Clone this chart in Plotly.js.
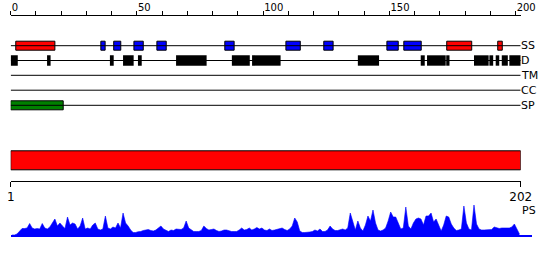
<!DOCTYPE html>
<html>
<head>
<meta charset="utf-8">
<script src="https://cdn.plot.ly/plotly-3.0.1.min.js"></script>
<style>html,body{margin:0;padding:0;background:#fff;}#chart{width:550px;height:260px;}</style>
</head>
<body>
<div id="chart"></div>
<script>
// ---- data ----
var seqLength = 202;
var rulerTicks = [0,10,20,30,40,50,60,70,80,90,100,110,120,130,140,150,160,170,180,190,200];
var rulerLabels = ['0','','','','','50','','','','','100','','','','','150','','','','','200'];
var seqTicks = [1, 202];
var seqTickLabels = ['1', '202'];
var trackNames = ['SS', 'D', 'TM', 'CC', 'SP'];

// secondary structure (H = helix, E = strand)
var ssStart = [2.0, 35.7, 40.8, 48.8, 57.9, 84.8, 109.0, 124.0, 149.0, 155.7, 172.7, 192.9];
var ssEnd   = [17.5, 37.4, 43.6, 52.5, 61.6, 88.5, 114.7, 127.7, 153.5, 162.6, 182.6, 194.7];
var ssType  = ['H','E','E','E','E','E','E','E','E','E','H','H'];

// disorder
var dStart = [0, 14.4, 39.3, 44.5, 50.4, 65.5, 87.6, 95.6, 137.5, 162.4, 164.9, 172.5, 183.5, 189.6, 192.1, 194.5, 197.5];
var dEnd   = [2.8, 15.8, 40.8, 48.7, 51.9, 77.6, 94.7, 106.9, 145.9, 164.0, 172.3, 173.8, 189.3, 191.1, 193.5, 196.9, 202];

// transmembrane / coiled coil: none
var tmStart = [], tmEnd = [];
var ccStart = [], ccEnd = [];

// signal peptide
var spStart = [0];
var spEnd = [20.8];

// domain bar
var domStart = [0];
var domEnd = [202];

// PS profile, one value per residue 1..202
var psValues = [
 0,0,1,4,6.5,6.5,7,11.5,7,6,6.5,6,11.5,7,6,8,12,16,9,12,
 9,6.5,18,10,12,11,6,9,17,6,7,6,10,12,6,5,6,19,7,6,
 8,7,12,7,22,12,9,5,2.5,2.5,3.3,3.5,4.5,5,5.5,4.5,4,5,7,9,
 6,4.5,3.5,5,4.5,6,6,5.5,7,14,7,5,3.5,3.5,3.5,4.5,9,6.5,5,5.5,
 6,4.5,3.5,4,5,5,4,3.5,3.5,3.5,5,7,5,5.5,7,5,6,7.5,6,7,
 5,4.5,6,4.5,5,5.5,6.5,7,5.5,4.5,6,9,17,13,4,2.5,2.5,2.5,3,3.5,
 5,4,6,3.5,3.5,5,9,6,4.5,4.5,5,6,5,7,22,13,5,14,7,4,
 10,19,14,25,12,5,4,5,7,14,23,18,18,12,6,7,28,9,6,12,
 16,17,16,10,19,19,22,13,16,10,4,10,19,18,11,7,4.5,5,6,29,
 12,6,5,30,11,6,5,5,5,5.5,5.5,8,7,6.5,7,7,7,7,8,11,
 6,1
];

// ---- layout positions (pixels from top) ----
var H = 260, W = 550;
var x0px = 10.7, x1px = 520.7, pxPerRes = (x1px - x0px) / seqLength;
var trackY = {SS: 45.7, D: 60.5, TM: 75.3, CC: 90.2, SP: 105.3};
var domY = 160.3;
var seqAxisY = 180.7;
var FONT = 'DejaVu Sans';

function rep(v, n){ var a=[]; for(var i=0;i<n;i++) a.push(v); return a; }
function diff(s, e){ return e.map(function(v,i){ return v - s[i]; }); }

var traces = [];
// track lines
trackNames.forEach(function(t){
  traces.push({type:'scatter', mode:'lines', x:[0, seqLength], y:[trackY[t], trackY[t]],
    xaxis:'x', yaxis:'y', line:{color:'#000', width:1}, hoverinfo:'skip', showlegend:false});
});
// SS boxes
traces.push({type:'bar', orientation:'h', base:ssStart, x:diff(ssStart, ssEnd), y:rep(trackY.SS, ssStart.length),
  width:9, xaxis:'x', yaxis:'y', cliponaxis:false,
  marker:{color:ssType.map(function(t){return t==='H' ? '#ff0000' : '#0000ff';}), line:{color:'#000', width:1}},
  hoverinfo:'skip', showlegend:false});
// disorder
traces.push({type:'bar', orientation:'h', base:dStart, x:diff(dStart, dEnd), y:rep(trackY.D, dStart.length),
  width:10.4, xaxis:'x', yaxis:'y', cliponaxis:false,
  marker:{color:'#000', line:{width:0}}, hoverinfo:'skip', showlegend:false});
// signal peptide
traces.push({type:'bar', orientation:'h', base:spStart, x:diff(spStart, spEnd), y:rep(trackY.SP, spStart.length),
  width:9, xaxis:'x', yaxis:'y', cliponaxis:false,
  marker:{color:'#008000', line:{color:'#000', width:1}}, hoverinfo:'skip', showlegend:false});
// domain bar
traces.push({type:'bar', orientation:'h', base:domStart, x:diff(domStart, domEnd), y:rep(domY, domStart.length),
  width:19, xaxis:'x', yaxis:'y', cliponaxis:false,
  marker:{color:'#ff0000', line:{color:'#000', width:1}}, hoverinfo:'skip', showlegend:false});
// PS profile
var psX = psValues.map(function(v,i){ return i + 1; });
traces.push({type:'scatter', mode:'lines', x:psX, y:psValues, xaxis:'x3', yaxis:'y2',
  fill:'tozeroy', fillcolor:'#0000ff', line:{color:'#0000ff', width:0.6}, hoverinfo:'skip', showlegend:false});
// sequence ruler (endpoints), invisible points so the axis is laid out
traces.push({type:'scatter', mode:'markers', x:seqTicks, y:[0.5, 0.5], xaxis:'x2', yaxis:'y3',
  marker:{opacity:0, size:1}, hoverinfo:'skip', showlegend:false});

var psEndPx = 532;
var annotations = trackNames.map(function(t){
  return {x:seqLength, y:trackY[t], xref:'x', yref:'y', text:t, showarrow:false, xanchor:'left', yanchor:'middle',
    xshift:-1.5, font:{family:FONT, size:11, color:'#000'}};
});
annotations.push({x:seqLength, y:210.7, xref:'x', yref:'y', text:'PS', showarrow:false, xanchor:'left', yanchor:'middle',
  xshift:-0.5, font:{family:FONT, size:11, color:'#000'}});

var dom = [x0px / W, x1px / W];
var layout = {
  width:W, height:H, margin:{l:0, r:0, t:0, b:0}, paper_bgcolor:'#fff', plot_bgcolor:'rgba(0,0,0,0)',
  showlegend:false, barmode:'overlay',
  xaxis:{domain:dom, range:[0, seqLength], anchor:'free', position:1 - 15.3 / H, side:'top',
    tickmode:'array', tickvals:rulerTicks, ticktext:rulerLabels, ticks:'outside', ticklen:4, tickwidth:1, tickcolor:'#000',
    ticklabelposition:'outside right', tickfont:{family:FONT, size:10, color:'#000'},
    showline:true, linecolor:'#000', linewidth:1, showgrid:false, zeroline:false, fixedrange:true},
  xaxis2:{domain:dom, range:[1, seqLength], anchor:'y3', side:'bottom',
    tickmode:'array', tickvals:seqTicks, ticktext:seqTickLabels, ticks:'outside', ticklen:5, tickwidth:1, tickcolor:'#000',
    tickfont:{family:FONT, size:12, color:'#000'},
    showline:true, linecolor:'#000', linewidth:1, showgrid:false, zeroline:false, fixedrange:true},
  xaxis3:{domain:[x0px / W, psEndPx / W], range:[0.5, 0.5 + (psEndPx - x0px) / pxPerRes], anchor:'y2',
    showline:true, linecolor:'#0000ff', linewidth:1.5, ticks:'', showticklabels:false, showgrid:false, zeroline:false, fixedrange:true},
  yaxis:{domain:[0, 1], range:[H, 0], visible:false, fixedrange:true},
  yaxis2:{domain:[25 / H, 65 / H], range:[0, 40], anchor:'x3', visible:false, fixedrange:true},
  yaxis3:{domain:[(H - seqAxisY) / H, (H - seqAxisY + 2) / H], range:[0, 1], anchor:'x2', visible:false, fixedrange:true},
  annotations:annotations
};

Plotly.newPlot('chart', traces, layout, {staticPlot:true, displayModeBar:false});
</script>
</body>
</html>
